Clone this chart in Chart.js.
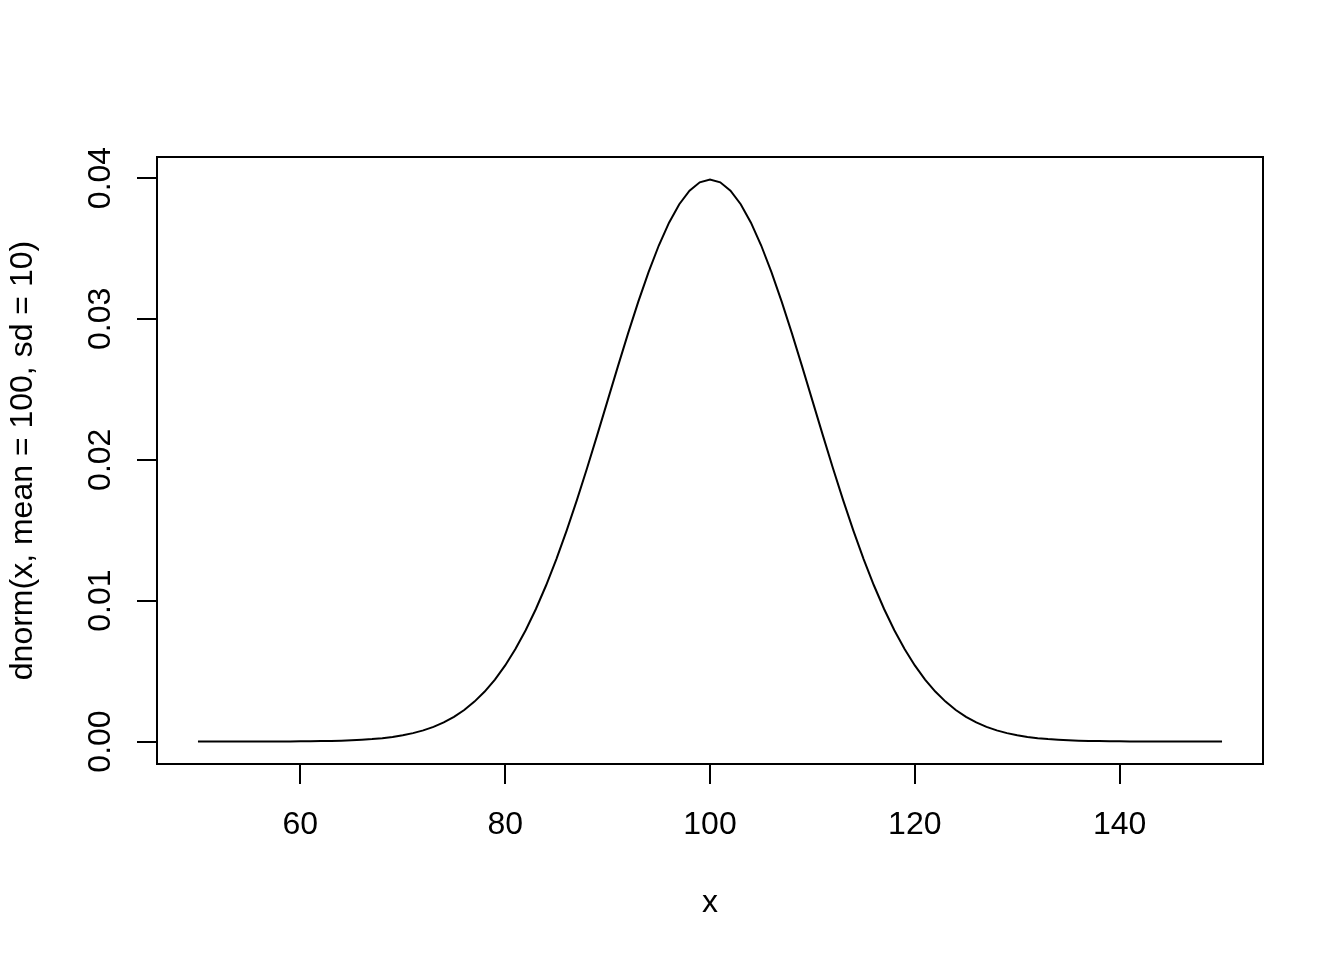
<!DOCTYPE html>
<html>
<head>
<meta charset="utf-8">
<script src="https://cdn.jsdelivr.net/npm/chart.js@4"></script>
<style>
    html, body { margin: 0; padding: 0; background: #fff; }
    #wrap { width: 1344px; height: 960px; }
</style>
</head>
<body>
<div id="wrap"><canvas id="plot" width="1344" height="960"></canvas></div>
<script>
// x values along the curve
const xValues = [
    50, 51, 52, 53, 54, 55, 56, 57, 58, 59,
    60, 61, 62, 63, 64, 65, 66, 67, 68, 69,
    70, 71, 72, 73, 74, 75, 76, 77, 78, 79,
    80, 81, 82, 83, 84, 85, 86, 87, 88, 89,
    90, 91, 92, 93, 94, 95, 96, 97, 98, 99,
    100, 101, 102, 103, 104, 105, 106, 107, 108, 109,
    110, 111, 112, 113, 114, 115, 116, 117, 118, 119,
    120, 121, 122, 123, 124, 125, 126, 127, 128, 129,
    130, 131, 132, 133, 134, 135, 136, 137, 138, 139,
    140, 141, 142, 143, 144, 145, 146, 147, 148, 149,
    150
];

// density
const densityValues = [
    0.0000001, 0.0000002, 0.0000004, 0.0000006, 0.0000010, 0.0000016, 0.0000025, 0.0000039, 0.0000059, 0.0000089,
    0.0000134, 0.0000199, 0.0000292, 0.0000425, 0.0000612, 0.0000873, 0.000123, 0.000172, 0.000238, 0.000327,
    0.000443, 0.000595, 0.000792, 0.001042, 0.001358, 0.001753, 0.002239, 0.002833, 0.003547, 0.004398,
    0.005399, 0.006562, 0.007895, 0.009405, 0.011092, 0.012952, 0.014973, 0.017137, 0.019419, 0.021785,
    0.024197, 0.026609, 0.028969, 0.031225, 0.033322, 0.035207, 0.036827, 0.038139, 0.039104, 0.039695,
    0.039894,
    0.039695, 0.039104, 0.038139, 0.036827, 0.035207, 0.033322, 0.031225, 0.028969, 0.026609, 0.024197,
    0.021785, 0.019419, 0.017137, 0.014973, 0.012952, 0.011092, 0.009405, 0.007895, 0.006562, 0.005399,
    0.004398, 0.003547, 0.002833, 0.002239, 0.001753, 0.001358, 0.001042, 0.000792, 0.000595, 0.000443,
    0.000327, 0.000238, 0.000172, 0.000123, 0.0000873, 0.0000612, 0.0000425, 0.0000292, 0.0000199, 0.0000134,
    0.0000089, 0.0000059, 0.0000039, 0.0000025, 0.0000016, 0.0000010, 0.0000006, 0.0000004, 0.0000002, 0.0000001
];

const xTicks = [60, 80, 100, 120, 140];
const yTicks = [0, 0.01, 0.02, 0.03, 0.04];
const yTickLabels = ['0.00', '0.01', '0.02', '0.03', '0.04'];

const xTitle = 'x';
const yTitle = 'dnorm(x, mean = 100, sd = 10)';

// axis limits as R pads them (4% each side)
const xMin = 46, xMax = 154;
const yMin = -0.0015958, yMax = 0.0414899;

const FONT = { family: '"Liberation Sans", Arial, Helvetica, sans-serif', size: 32 };

// box round the plot region
const boxPlugin = {
    id: 'box',
    afterDraw: function (chart) {
        const a = chart.chartArea;
        const ctx = chart.ctx;
        ctx.save();
        ctx.strokeStyle = '#000';
        ctx.lineWidth = 2;
        ctx.strokeRect(a.left, a.top, a.right - a.left, a.bottom - a.top);
        ctx.restore();
    }
};

const points = xValues.map((x, i) => ({ x: x, y: densityValues[i] }));

new Chart(document.getElementById('plot').getContext('2d'), {
    type: 'line',
    data: {
        datasets: [{
            data: points,
            borderColor: '#000',
            borderWidth: 2,
            pointRadius: 0,
            tension: 0,
            fill: false
        }]
    },
    options: {
        responsive: false,
        devicePixelRatio: 1,
        animation: false,
        layout: { padding: { left: 0, top: 157, right: 81, bottom: 0 } },
        plugins: {
            legend: { display: false },
            tooltip: { enabled: false }
        },
        scales: {
            x: {
                type: 'linear',
                min: xMin,
                max: xMax,
                afterFit: function (scale) { scale.height = 196; },
                afterBuildTicks: function (scale) {
                    scale.ticks = xTicks.map(v => ({ value: v }));
                },
                border: { display: false },
                grid: {
                    drawOnChartArea: false,
                    drawTicks: true,
                    tickLength: 20,
                    color: '#000',
                    lineWidth: 2
                },
                ticks: {
                    autoSkip: false,
                    maxRotation: 0,
                    padding: 22,
                    color: '#000',
                    font: FONT,
                    callback: v => String(v)
                },
                title: {
                    display: true,
                    text: xTitle,
                    color: '#000',
                    font: FONT,
                    padding: { top: 0, bottom: 38 }
                }
            },
            y: {
                type: 'linear',
                min: yMin,
                max: yMax,
                afterFit: function (scale) { scale.width = 157; },
                afterBuildTicks: function (scale) {
                    scale.ticks = yTicks.map(v => ({ value: v }));
                },
                border: { display: false },
                grid: {
                    drawOnChartArea: false,
                    drawTicks: true,
                    tickLength: 20,
                    color: '#000',
                    lineWidth: 2
                },
                ticks: {
                    autoSkip: false,
                    minRotation: 90,
                    maxRotation: 90,
                    crossAlign: 'center',
                    padding: 5,
                    color: '#000',
                    font: FONT,
                    callback: function (v) {
                        const i = yTicks.indexOf(v);
                        return i >= 0 ? yTickLabels[i] : '';
                    }
                },
                title: {
                    display: true,
                    text: yTitle,
                    color: '#000',
                    font: FONT,
                    padding: { top: 4, bottom: 0 }
                }
            }
        }
    },
    plugins: [boxPlugin]
});
</script>
</body>
</html>
